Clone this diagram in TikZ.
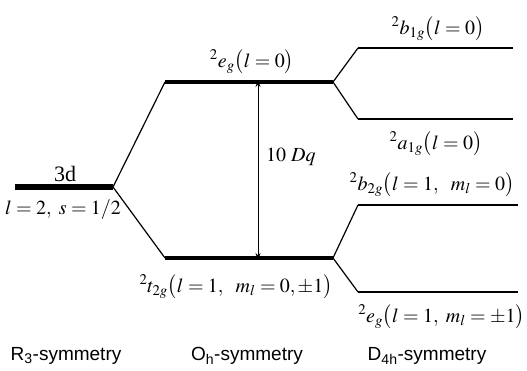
\documentclass[tikz,border=0pt]{standalone}
\usepackage{mathptmx}
\usepackage{fontspec}
\setmainfont{Liberation Serif}
\setsansfont{Liberation Sans}
\usetikzlibrary{arrows.meta}
\begin{document}
\begin{tikzpicture}[x=1pt,y=-1pt,
  lvlA/.style={line width=5.5pt},
  lvlB/.style={line width=4pt},
  lvlC/.style={line width=1.3pt},
  lvlD/.style={line width=2.4pt},
  conn/.style={line width=1.2pt},
  lbl/.style={inner sep=0pt,font=\fontsize{20}{22}\selectfont},
  sym/.style={inner sep=0pt,font=\sffamily\fontsize{19}{21}\selectfont}]
\useasboundingbox (0,0) rectangle (527,371);
% R3 level
\coordinate (r1) at (15,187);
\coordinate (r2) at (113,187);
% Oh levels
\coordinate (eg1) at (165,82);
\coordinate (eg2) at (333,82);
\coordinate (t1) at (165,258);
\coordinate (t2) at (333,258);
\coordinate (arrA) at (258,82);
\coordinate (arrB) at (258,258);
% D4h levels
\coordinate (b1a) at (358,48);
\coordinate (b1b) at (513,48);
\coordinate (a1a) at (358,119);
\coordinate (a1b) at (513,119);
\coordinate (b2a) at (358,205);
\coordinate (b2b) at (518,205);
\coordinate (ega) at (358,292);
\coordinate (egb) at (518,292);

\draw[lvlA] (r1) -- (r2);
\draw[lvlB] (eg1) -- (eg2);
\draw[lvlB] (t1) -- (t2);
\draw[lvlC] (b1a) -- (b1b);
\draw[lvlC] (a1a) -- (a1b);
\draw[lvlC] (b2a) -- (b2b);
\draw[lvlD] (ega) -- (egb);

\draw[conn] (r2) -- (eg1);
\draw[conn] (r2) -- (t1);
\draw[conn] (eg2) -- (b1a);
\draw[conn] (eg2) -- (a1a);
\draw[conn] (t2) -- (b2a);
\draw[conn] (t2) -- (ega);

\draw[line width=1pt,{Stealth[length=7pt,width=5pt]}-{Stealth[length=7pt,width=5pt]}]
  ([yshift=2pt]arrA) -- ([yshift=-2pt]arrB);

\node[lbl,font=\fontsize{22}{24}\selectfont] (l3d) at (65,174) {3d};
\node[lbl] (lls) at (63,210) {$l=2,\ s=1/2$};
\node[lbl] (leg) at (252,62) {${}^2e_g\bigl(l=0\bigr)$};
\node[lbl] (lt2g) at (236,287) {${}^2t_{2g}\bigl(l=1,\ \ m_l=0,\pm1\bigr)$};
\node[lbl,anchor=west] (ldq) at (266,157) {$10\ Dq$};
\node[lbl] (lb1g) at (438,29) {${}^2b_{1g}\bigl(l=0\bigr)$};
\node[lbl] (la1g) at (436,144) {${}^2a_{1g}\bigl(l=0\bigr)$};
\node[lbl] (lb2g) at (432,185) {${}^2b_{2g}\bigl(l=1,\ \ m_l=0\bigr)$};
\node[lbl,anchor=east] (legd) at (525,317) {${}^2e_g\bigl(l=1,\ m_l=\pm1\bigr)$};

\node[sym] (sR) at (66,356) {R\textsubscript{3}-symmetry};
\node[sym] (sO) at (247,356) {O\textsubscript{h}-symmetry};
\node[sym] (sD) at (427,356) {D\textsubscript{4h}-symmetry};
\end{tikzpicture}
\end{document}
